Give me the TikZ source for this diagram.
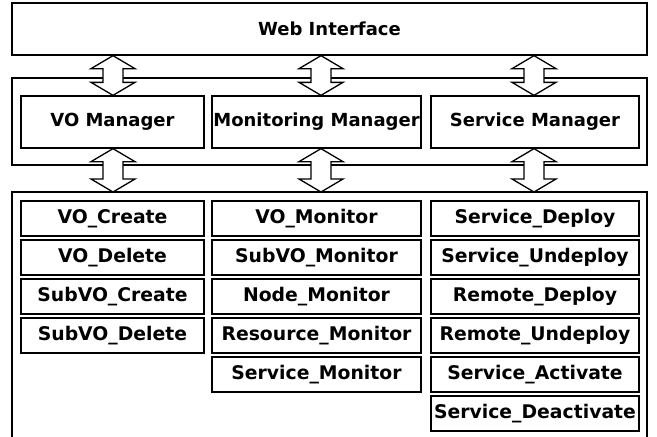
\documentclass[tikz,border=0pt]{standalone}
\usepackage{fontspec}
\setmainfont{DejaVu Sans}
\usetikzlibrary{calc}

\tikzset{
	boxline/.style={draw=black, line width=1.3pt},
	mgrbox/.style={boxline, minimum height=52pt, inner sep=0pt, font=\fontsize{18}{21}\selectfont\bfseries},
	toolbox/.style={boxline, minimum height=35pt, inner sep=0pt, font=\fontsize{18.8}{21}\selectfont\bfseries},
	arrowline/.style={boxline, fill=white, line join=miter},
}

% hollow two-headed arrow, tip #1 on top, tip #2 below
\newcommand{\fatarrow}[2]{%
	\path (#1) coordinate (fa-a) (#2) coordinate (fa-b);
	\draw [arrowline] (fa-a) -- ($(fa-a)+(22,13)$) -- ($(fa-a)+(10,13)$)
		-- ($(fa-b)+(10,-13)$) -- ($(fa-b)+(22,-13)$) -- (fa-b)
		-- ($(fa-b)+(-22,-13)$) -- ($(fa-b)+(-10,-13)$)
		-- ($(fa-a)+(-10,13)$) -- ($(fa-a)+(-22,13)$) -- cycle;
}

\begin{document}
\begin{tikzpicture}[x=1pt, y=-1pt]

	\useasboundingbox [fill=white] (0,0) rectangle (657,437);

	% top layer
	\node [mgrbox, minimum width=635pt] (web) at (329.5,29) {Web Interface};

	% manager layer
	\node [boxline, minimum width=635pt, minimum height=87pt] (mgrlayer) at (329.5,121.5) {};
	\node [mgrbox, minimum width=183pt] (vo) at (112.5,122) {VO Manager};
	\node [mgrbox, minimum width=209pt] (mon) at (316.5,122) {Monitoring Manager};
	\node [mgrbox, minimum width=208pt] (srv) at (535,122) {Service Manager};

	% tool layer, open at the bottom
	\coordinate (base-nw) at (12,192);
	\coordinate (base-ne) at (647,192);
	\draw [boxline] (base-nw |- 0,445) -- (base-nw) -- (base-ne) -- (base-ne |- 0,445);

	\foreach \name [count=\i] in {VO\_Create,VO\_Delete,SubVO\_Create,SubVO\_Delete}
		\node [toolbox, minimum width=183pt] (vo-\i) at (112.5,179.5+39*\i) {\name};
	\foreach \name [count=\i] in {VO\_Monitor,SubVO\_Monitor,Node\_Monitor,Resource\_Monitor,Service\_Monitor}
		\node [toolbox, minimum width=209pt] (mon-\i) at (316.5,179.5+39*\i) {\name};
	\foreach \name [count=\i] in {Service\_Deploy,Service\_Undeploy,Remote\_Deploy,Remote\_Undeploy,Service\_Activate,Service\_Deactivate}
		\node [toolbox, minimum width=208pt] (srv-\i) at (535,179.5+39*\i) {\name};

	% arrows between layers
	\coordinate (vo-x) at ([xshift=0.5pt]vo.north);
	\coordinate (mon-x) at ([xshift=4.5pt]mon.north);
	\coordinate (srv-x) at ([xshift=-1pt]srv.north);

	\fatarrow{vo-x |- web.south}{vo-x}
	\fatarrow{mon-x |- web.south}{mon-x}
	\fatarrow{srv-x |- web.south}{srv-x}

	\fatarrow{vo-x |- vo.south}{vo-x |- base-nw}
	\fatarrow{mon-x |- mon.south}{mon-x |- base-nw}
	\fatarrow{srv-x |- srv.south}{srv-x |- base-nw}

\end{tikzpicture}
\end{document}
